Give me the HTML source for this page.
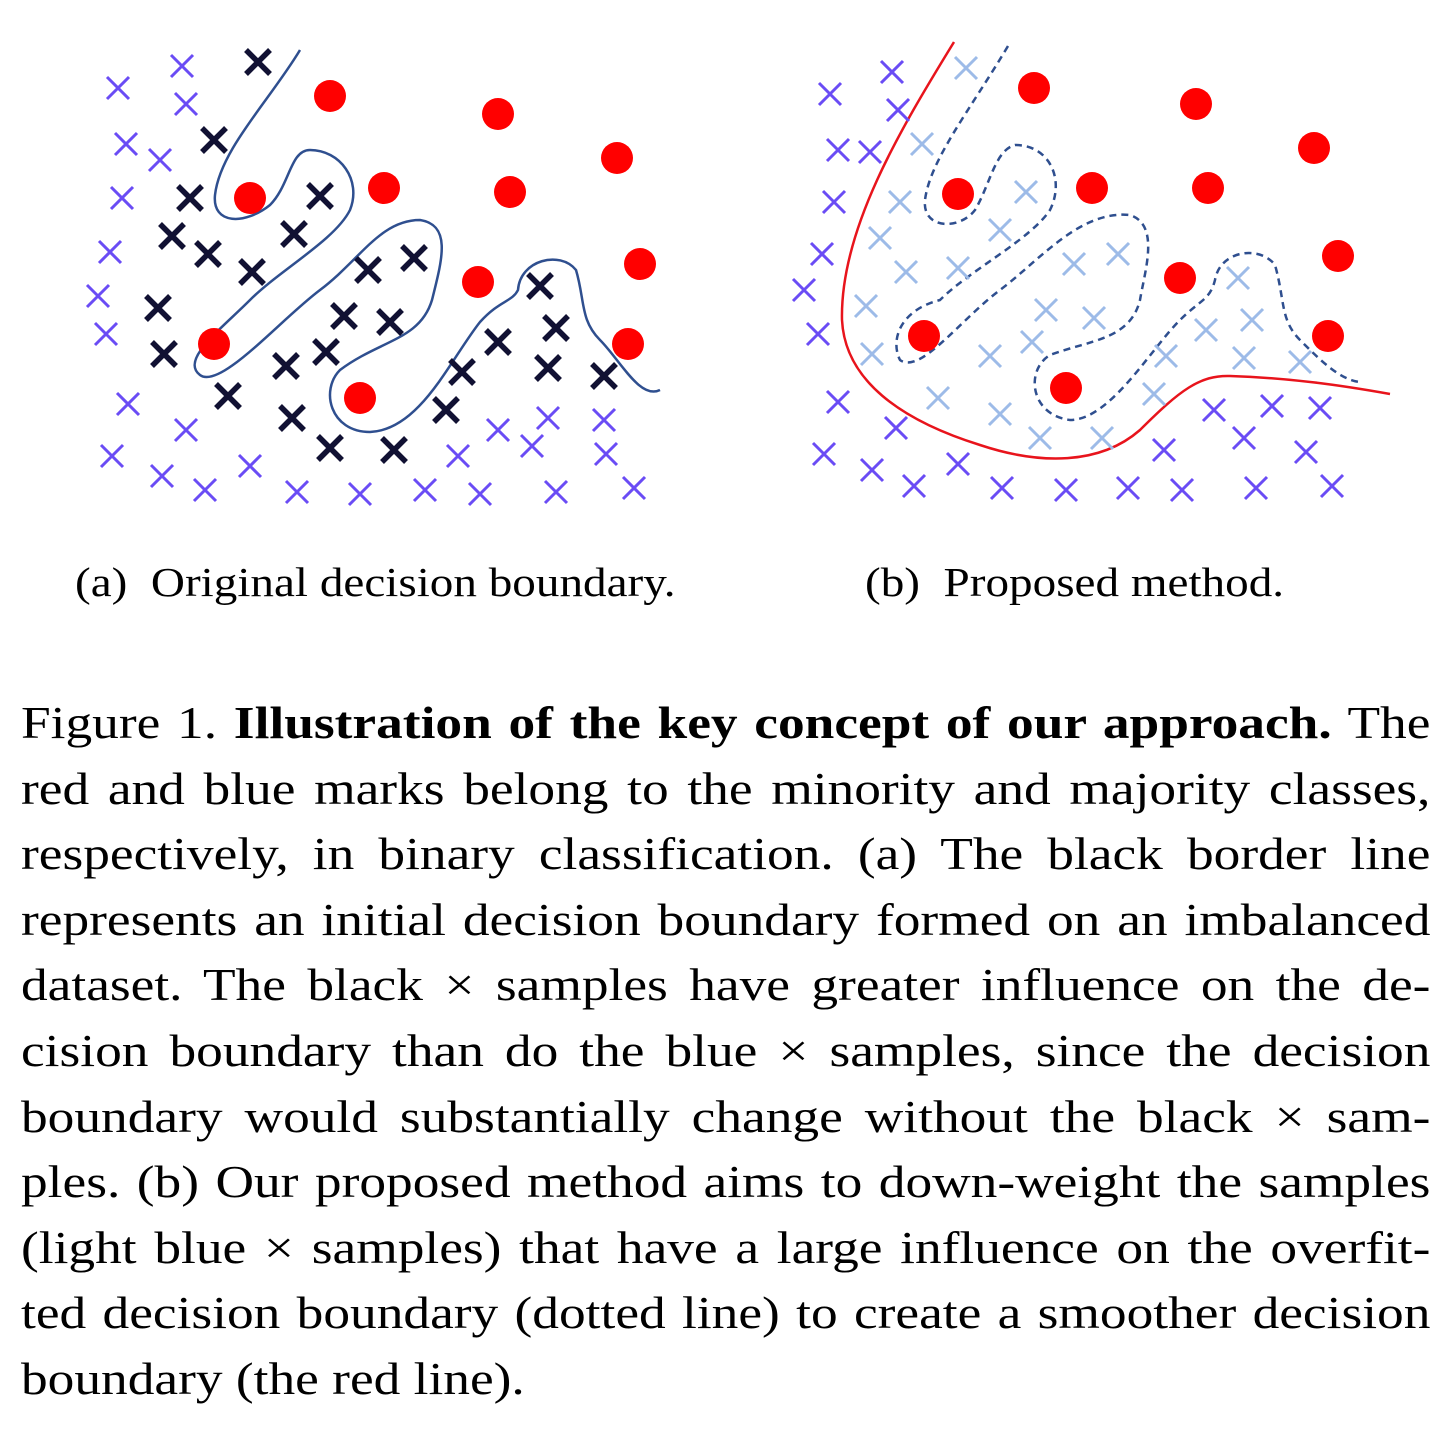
<!DOCTYPE html>
<html><head><meta charset="utf-8">
<style>
html,body{margin:0;padding:0;background:#fff;}
body{width:1455px;height:1436px;position:relative;overflow:hidden;font-family:"Liberation Serif",serif;color:#000;}
svg{position:absolute;left:0;top:0;}
.sub{position:absolute;top:558px;font-size:41px;white-space:nowrap;transform:scaleX(1.15);transform-origin:0 0;}
.cap{position:absolute;left:21px;width:1215px;font-size:46px;line-height:65.6px;top:690px;transform:scaleX(1.16);transform-origin:0 0;}
.ln{display:block;text-align:justify;text-align-last:justify;white-space:nowrap;height:65.6px;}
.ln.last{text-align-last:left;}
</style></head><body>
<svg id="fig" width="1455" height="560">
<path fill="none" stroke="#2f4f8f" stroke-width="2.5" d="M300,50 C270,100 220,150 215,195 C212,225 245,225 270,205 C290,185 290,150 310,150 C340,150 362,180 350,210 C335,240 280,270 250,300 C220,330 180,360 200,375 C220,390 280,320 320,290 C360,260 380,220 420,220 C452,225 442,260 432,300 C420,340 380,340 340,370 C320,390 330,432 370,432 C420,430 450,360 480,322 C500,300 512,302 518,290 C520,260 560,250 576,270 C585,300 580,320 600,340 C620,360 640,400 660,390"/>
<path fill="none" stroke="#2f4f8f" stroke-width="2.5" stroke-dasharray="7,5" d="M1008,46 C970,110 930,160 925,200 C922,230 960,230 975,210 C990,185 995,150 1015,145 C1050,145 1065,180 1050,210 C1030,240 970,270 940,300 C900,310 890,340 900,360 C920,375 960,320 1000,290 C1040,260 1080,210 1130,215 C1160,225 1145,270 1140,300 C1130,340 1090,340 1050,355 C1025,370 1030,415 1070,420 C1110,420 1150,350 1180,320 C1200,300 1210,300 1215,280 C1220,250 1260,245 1275,265 C1285,300 1280,320 1300,340 C1320,360 1340,380 1360,382"/>
<path fill="none" stroke="#e8141c" stroke-width="2.5" d="M954,42 C900,130 840,230 842,320 C845,380 900,420 980,445 C1040,465 1100,465 1140,430 C1180,390 1200,375 1230,376 C1290,378 1340,385 1390,394"/>
</svg>
<script>
const aBlue=[[118,88],[182,66],[186,104],[126,144],[160,160],[122,198],[110,252],[98,296],[106,334],[128,404],[186,430],[112,456],[162,476],[205,490],[250,466],[297,492],[360,494],[425,490],[480,494],[458,456],[498,430],[532,446],[548,418],[604,420],[606,454],[556,492],[634,488]];
const aBlack=[[258,62],[214,140],[190,198],[172,236],[208,254],[252,272],[294,234],[320,196],[158,308],[164,354],[228,396],[286,366],[326,352],[344,316],[368,270],[414,258],[390,322],[292,418],[330,448],[394,450],[446,410],[462,372],[498,342],[540,286],[556,328],[548,368],[604,376]];
const aRed=[[330,96],[498,114],[384,188],[250,198],[510,192],[617,158],[640,264],[478,282],[214,344],[360,398],[628,344]];
const bBlue=[[830,94],[892,72],[898,110],[838,150],[870,152],[834,202],[822,254],[804,290],[818,334],[838,402],[896,428],[824,454],[872,470],[914,486],[958,464],[1002,488],[1066,490],[1128,488],[1182,490],[1164,450],[1214,410],[1244,438],[1272,406],[1320,408],[1306,452],[1256,488],[1332,486]];
const bLight=[[966,68],[922,144],[900,202],[880,238],[906,272],[958,268],[1000,230],[1026,192],[866,306],[872,354],[938,398],[990,356],[1032,342],[1046,310],[1074,264],[1118,254],[1094,318],[1000,414],[1040,438],[1102,438],[1154,394],[1166,356],[1206,330],[1238,278],[1252,320],[1244,358],[1300,362]];
const bRed=[[1034,88],[1196,104],[1092,188],[958,194],[1208,188],[1314,148],[1338,256],[1180,278],[924,336],[1066,388],[1328,336]];
const NS='http://www.w3.org/2000/svg';
const svg=document.getElementById('fig');
function cross(p,color,w,r,name){
  const g=document.createElementNS(NS,'path');
  g.setAttribute('d',`M${p[0]-r},${p[1]-r}L${p[0]+r},${p[1]+r}M${p[0]+r},${p[1]-r}L${p[0]-r},${p[1]+r}`);
  g.setAttribute('stroke',color);g.setAttribute('stroke-width',w);g.setAttribute('fill','none');
  
  
  svg.appendChild(g);
}
function dot(p,name){
  const c=document.createElementNS(NS,'circle');
  c.setAttribute('cx',p[0]);c.setAttribute('cy',p[1]);c.setAttribute('r',16);c.setAttribute('fill','#f00');
  
  
  svg.appendChild(c);
}
aBlue.forEach(p=>cross(p,'#6a4cf5',3,11,'majority-cross'));
aBlack.forEach(p=>cross(p,'#111133',5.5,12,'influential-cross'));
aRed.forEach(p=>dot(p,'minority-dot'));
bBlue.forEach(p=>cross(p,'#6a4cf5',3,11,'majority-cross'));
bLight.forEach(p=>cross(p,'#9dbbe8',3,11,'downweighted-cross'));
bRed.forEach(p=>dot(p,'minority-dot'));
</script>
<div class="sub" style="left:75px">(a)&nbsp; Original decision boundary.</div>
<div class="sub" style="left:865px">(b)&nbsp; Proposed method.</div>
<div class="cap">
<span class="ln">Figure 1. <b>Illustration of the key concept of our approach.</b> The</span>
<span class="ln">red and blue marks belong to the minority and majority classes,</span>
<span class="ln">respectively, in binary classification. (a) The black border line</span>
<span class="ln">represents an initial decision boundary formed on an imbalanced</span>
<span class="ln">dataset. The black × samples have greater influence on the de-</span>
<span class="ln">cision boundary than do the blue × samples, since the decision</span>
<span class="ln">boundary would substantially change without the black × sam-</span>
<span class="ln">ples. (b) Our proposed method aims to down-weight the samples</span>
<span class="ln">(light blue × samples) that have a large influence on the overfit-</span>
<span class="ln">ted decision boundary (dotted line) to create a smoother decision</span>
<span class="ln last">boundary (the red line).</span>
</div>
</body></html>
